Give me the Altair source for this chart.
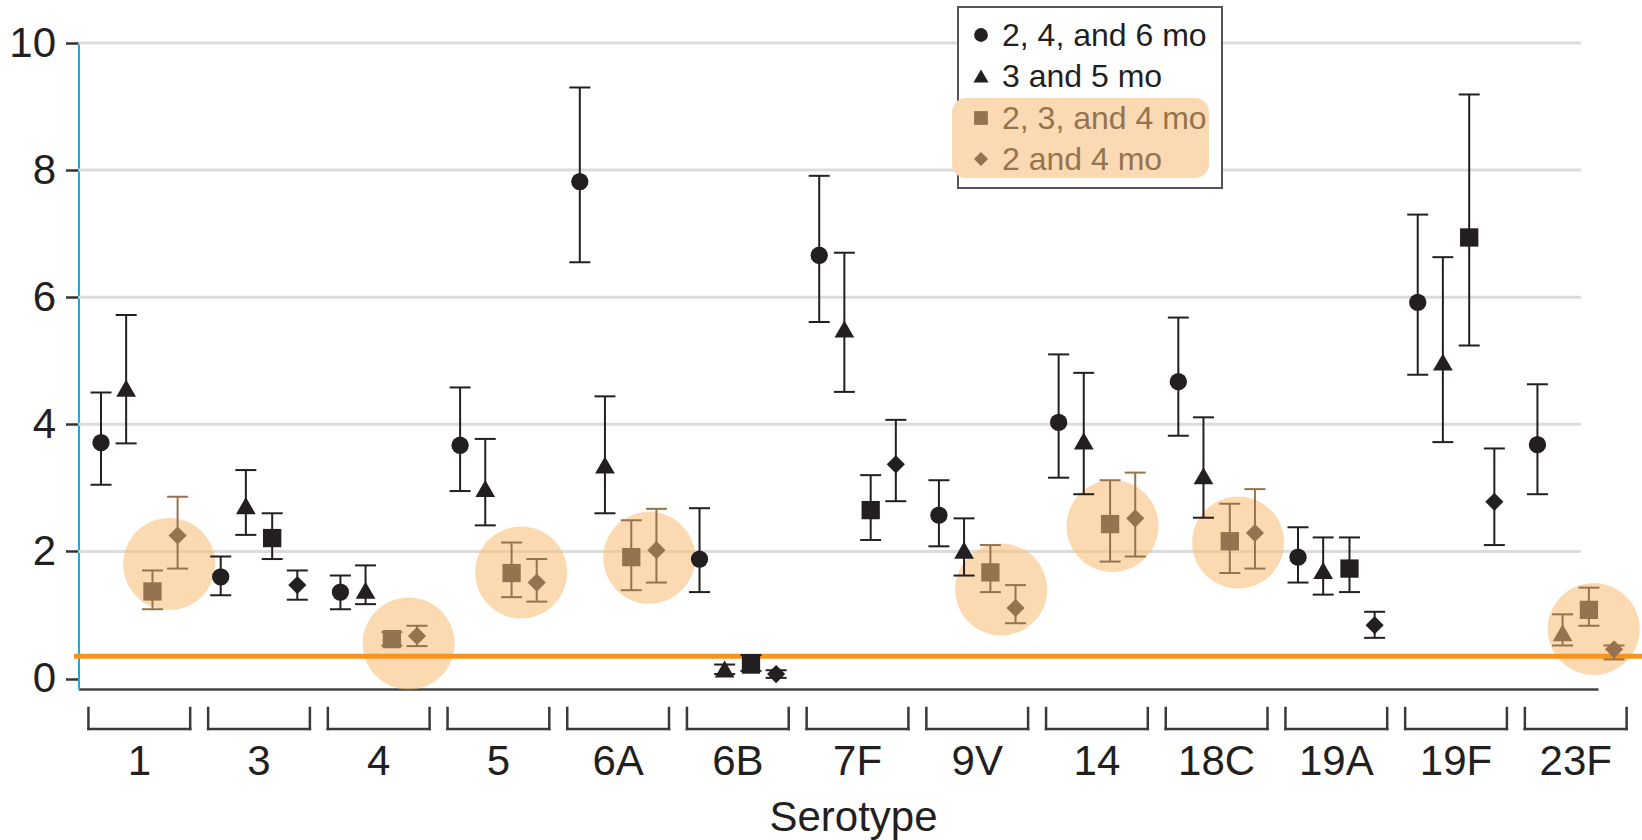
import altair as alt
import pandas as pd

# ---------------- data ----------------
serotypes = ["1", "3", "4", "5", "6A", "6B", "7F", "9V", "14", "18C", "19A", "19F", "23F"]
schedules = ["2, 4, and 6 mo", "3 and 5 mo", "2, 3, and 4 mo", "2 and 4 mo"]

gmc_246 = [3.71, 1.60, 1.36, 3.67, 7.82, 1.88, 6.66, 2.57, 4.03, 4.67, 1.91, 5.92, 3.68]
lo_246 = [3.05, 1.31, 1.09, 2.95, 6.55, 1.36, 5.61, 2.08, 3.16, 3.82, 1.51, 4.78, 2.90]
hi_246 = [4.50, 1.92, 1.62, 4.58, 9.30, 2.68, 7.91, 3.12, 5.10, 5.68, 2.38, 7.30, 4.63]

gmc_35 = [4.57, 2.72, 1.39, 2.99, 3.36, 0.15, 5.50, 2.02, 3.74, 3.19, 1.70, 4.98, 0.72]
lo_35 = [3.70, 2.26, 1.17, 2.41, 2.60, 0.07, 4.51, 1.62, 2.90, 2.53, 1.32, 3.72, 0.52]
hi_35 = [5.72, 3.28, 1.78, 3.77, 4.44, 0.22, 6.70, 2.52, 4.81, 4.11, 2.22, 6.63, 1.01]

gmc_234 = [1.37, 2.21, 0.62, 1.66, 1.91, 0.22, 2.65, 1.67, 2.43, 2.16, 1.73, 6.94, 1.08]
lo_234 = [1.09, 1.88, 0.52, 1.28, 1.39, 0.12, 2.18, 1.36, 1.84, 1.66, 1.36, 5.24, 0.83]
hi_234 = [1.70, 2.60, 0.73, 2.14, 2.49, 0.37, 3.20, 2.10, 3.12, 2.75, 2.22, 9.19, 1.43]

gmc_24 = [2.25, 1.47, 0.67, 1.51, 2.02, 0.07, 3.37, 1.11, 2.52, 2.29, 0.84, 2.78, 0.46]
lo_24 = [1.73, 1.24, 0.51, 1.21, 1.51, 0.01, 2.79, 0.87, 1.92, 1.73, 0.64, 2.10, 0.30]
hi_24 = [2.86, 1.70, 0.83, 1.88, 2.67, 0.13, 4.07, 1.47, 3.24, 2.98, 1.05, 3.62, 0.52]

# serotypes in which each schedule's point is highlighted (brown)
hl_246 = []
hl_35 = ["23F"]
hl_234 = ["1", "4", "5", "6A", "9V", "14", "18C", "23F"]
hl_24 = ["1", "4", "5", "6A", "9V", "14", "18C", "23F"]

# highlight discs (serotype, offset within group, value)
disc_sero = ["1", "4", "5", "6A", "9V", "14", "18C", "23F"]
disc_off = [0.25, 0.25, 0.19, 0.26, 0.20, 0.13, 0.18, 0.15]
disc_val = [1.80, 0.55, 1.67, 1.90, 1.40, 2.40, 2.14, 0.78]

threshold = [0.35]
grid_vals = [2, 4, 6, 8, 10]

# ---------------- styling ----------------
FONT = "Liberation Sans, Arial, Helvetica, sans-serif"
DARK = "#231f20"
BROWN = "#95734e"
offsets = {schedules[0]: -0.32, schedules[1]: -0.11, schedules[2]: 0.11, schedules[3]: 0.32}
shapes = {schedules[0]: "circle", schedules[1]: "triangle-up", schedules[2]: "square", schedules[3]: "diamond"}
sizes = {schedules[0]: 300, schedules[1]: 390, schedules[2]: 335, schedules[3]: 330}

rows = []
for sched, g, lo, hi, hl in [
    (schedules[0], gmc_246, lo_246, hi_246, hl_246),
    (schedules[1], gmc_35, lo_35, hi_35, hl_35),
    (schedules[2], gmc_234, lo_234, hi_234, hl_234),
    (schedules[3], gmc_24, lo_24, hi_24, hl_24),
]:
    for i, s in enumerate(serotypes):
        rows.append({
            "serotype": s, "schedule": sched, "xpos": i + offsets[sched],
            "gmc": g[i], "lo": lo[i], "hi": hi[i],
            "col": BROWN if s in hl else DARK, "sz": sizes[sched],
        })
df = pd.DataFrame(rows)

disc_df = pd.DataFrame({
    "x": [serotypes.index(s) + o for s, o in zip(disc_sero, disc_off)],
    "v": disc_val,
})
cat_df = pd.DataFrame({
    "name": serotypes,
    "idx": list(range(len(serotypes))),
})
cat_df["bl"] = cat_df["idx"] - 0.425
cat_df["br"] = cat_df["idx"] + 0.425

W, H = 1519.5, 646
xscale = alt.Scale(domain=[-0.508, 12.186], nice=False, zero=False)
yscale = alt.Scale(domain=[-0.165, 10], nice=False, zero=False)
xaxis = alt.Axis(ticks=False, labels=False, grid=False, domainColor="#444444", domainWidth=2.5,
                 title="Serotype", titleFontSize=42, titleFontWeight="normal", titleFont=FONT,
                 titleColor=DARK, titleX=774.5, titleY=141, titleBaseline="alphabetic",
                 titleAlign="center")
yaxis = alt.Axis(values=grid_vals[:0] + [0, 2, 4, 6, 8, 10], title=None, grid=False,
                 domainColor="#19a9e6", domainWidth=2, tickColor="#333333", tickWidth=2.5,
                 tickSize=13, labelFontSize=42, labelPadding=10, labelColor=DARK, labelFont=FONT)


def X(f):
    return alt.X(f, type="quantitative", scale=xscale, axis=xaxis)


def Y(f):
    return alt.Y(f, type="quantitative", scale=yscale, axis=yaxis)


grid = alt.Chart(pd.DataFrame({"g": grid_vals})).mark_rule(color="#dcdcdc", strokeWidth=3).encode(
    y=Y("g"), x=alt.value(0), x2=alt.value(1502.5))

discs = alt.Chart(disc_df).mark_point(filled=True, shape="circle", size=8464, color="#f8c27f",
                                      opacity=0.6, strokeWidth=0).encode(x=X("x"), y=Y("v"))

thr = alt.Chart(pd.DataFrame({"t": threshold})).mark_rule(color="#f7941d", strokeWidth=5).encode(
    y=Y("t"), x=alt.value(-4.5), x2=alt.value(1563.5))

bars = alt.Chart(df).mark_rule(strokeWidth=2).encode(
    x=X("xpos"), y=Y("lo"), y2="hi", color=alt.Color("col:N", scale=None))
cap_lo = alt.Chart(df).mark_tick(orient="horizontal", size=21, thickness=2, opacity=1).encode(
    x=X("xpos"), y=Y("lo"), color=alt.Color("col:N", scale=None))
cap_hi = alt.Chart(df).mark_tick(orient="horizontal", size=21, thickness=2, opacity=1).encode(
    x=X("xpos"), y=Y("hi"), color=alt.Color("col:N", scale=None))

points = alt.Chart(df).mark_point(filled=True, opacity=1, strokeWidth=0).encode(
    x=X("xpos"), y=Y("gmc"),
    shape=alt.Shape("schedule:N", scale=alt.Scale(domain=schedules, range=[shapes[s] for s in schedules]),
                    legend=None),
    color=alt.Color("col:N", scale=None),
    size=alt.Size("sz:Q", scale=None),
)

BR = "#3a3a3a"
br_h = alt.Chart(cat_df).mark_rule(color=BR, strokeWidth=2.5, strokeCap="square").encode(
    x=X("bl"), x2="br", y=alt.value(686))
br_l = alt.Chart(cat_df).mark_rule(color=BR, strokeWidth=2.5, strokeCap="square").encode(
    x=X("bl"), y=alt.value(665), y2=alt.value(686))
br_r = alt.Chart(cat_df).mark_rule(color=BR, strokeWidth=2.5, strokeCap="square").encode(
    x=X("br"), y=alt.value(665), y2=alt.value(686))
cat_labels = alt.Chart(cat_df).mark_text(fontSize=42, font=FONT, color=DARK, baseline="alphabetic",
                                         align="center").encode(
    x=X("idx"), y=alt.value(732), text="name:N")

# ---------------- legend ----------------
one = pd.DataFrame({"a": [0]})
leg_box = alt.Chart(one).mark_rect(fill="white", stroke="#555555", strokeWidth=2).encode(
    x=alt.value(879.5), x2=alt.value(1143.5), y=alt.value(-36), y2=alt.value(145))
leg_hl = alt.Chart(one).mark_rect(color="#fbdab3", cornerRadius=14).encode(
    x=alt.value(873.5), x2=alt.value(1130.5), y=alt.value(55), y2=alt.value(135))
leg_layers = [leg_box, leg_hl]
leg_y = [-8, 33, 75, 116]
leg_sizes = [190, 230, 190, 200]
leg_cols = [DARK, DARK, BROWN, BROWN]
for k, s in enumerate(schedules):
    d = pd.DataFrame({"label": [s]})
    leg_layers.append(alt.Chart(d).mark_point(filled=True, opacity=1, strokeWidth=0, shape=shapes[s],
                                              size=leg_sizes[k], color=leg_cols[k]).encode(
        x=alt.value(902.5), y=alt.value(leg_y[k])))
    leg_layers.append(alt.Chart(d).mark_text(fontSize=32, font=FONT, color=leg_cols[k], align="left",
                                             baseline="middle").encode(
        x=alt.value(923.5), y=alt.value(leg_y[k] + 1), text="label:N"))

chart = alt.layer(
    grid, discs, thr, bars, cap_lo, cap_hi, points, br_h, br_l, br_r, cat_labels, *leg_layers
).properties(
    width=W, height=H,
    autosize=alt.AutoSizeParams(type="none"),
    padding={"left": 78.5, "top": 43, "right": 44, "bottom": 151},
    background="white",
).configure_view(stroke=None)

chart.save("out.html", embed_options={"renderer": "svg", "actions": False})
